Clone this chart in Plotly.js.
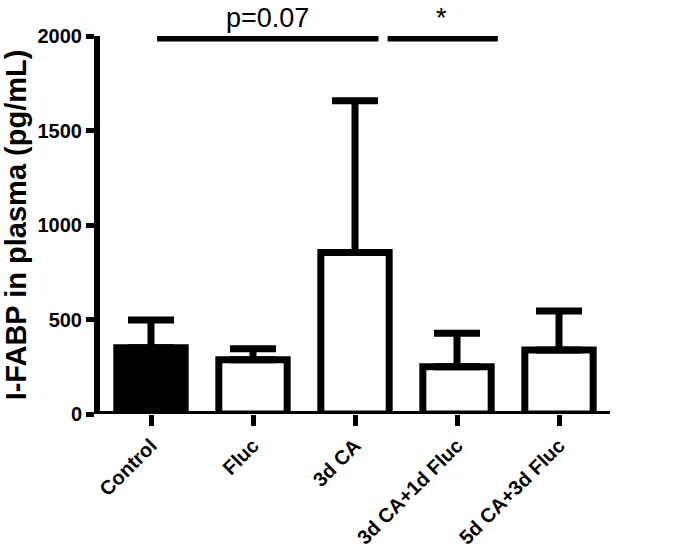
<!DOCTYPE html>
<html>
<head>
<meta charset="utf-8">
<script src="https://cdn.plot.ly/plotly-3.0.1.min.js"></script>
<style>html,body{margin:0;padding:0;background:#fff;}#chart{width:675px;height:557px;}</style>
</head>
<body>
<div id="chart"></div>
<script>
const categories = ["Control", "Fluc", "3d CA", "3d CA+1d Fluc", "5d CA+3d Fluc"];
const means = [350, 287, 855, 250, 339];
const errorsUp = [147, 58, 803, 177, 206];
const fillColors = ["#000000", "#ffffff", "#ffffff", "#ffffff", "#ffffff"];
const yTicks = [0, 500, 1000, 1500, 2000];
const sigBrackets = [
  {from: 0.06, to: 2.23, level: 1990, label: "p=0.07", labelX: 1.14},
  {from: 2.32, to: 3.40, level: 1990, label: "*", labelX: 2.85}
];

const FONT = "Liberation Sans, Arial, Helvetica, sans-serif";

const trace = {
  type: "bar",
  x: categories,
  y: means,
  width: 0.67,
  marker: {color: fillColors, line: {color: "#000", width: 7}},
  error_y: {
    type: "data", symmetric: false,
    array: errorsUp, arrayminus: categories.map(() => 0),
    color: "#000", thickness: 7, width: 23
  },
  hoverinfo: "none"
};

const shapes = sigBrackets.map(b => ({
  type: "line", xref: "x", yref: "y",
  x0: b.from, x1: b.to, y0: b.level, y1: b.level,
  line: {color: "#000", width: 7}
}));
// x axis baseline at y = 0
shapes.push({
  type: "line", xref: "paper", yref: "y",
  x0: -0.012, x1: 1.0, y0: 0, y1: 0,
  line: {color: "#000", width: 6}, layer: "above"
});

const annotations = sigBrackets.map(b => ({
  xref: "x", yref: "paper", x: b.labelX, y: 1, yanchor: "bottom",
  yshift: 1, text: b.label, showarrow: false,
  font: {family: FONT, size: 27, color: "#000"}
}));

const layout = {
  width: 675, height: 557,
  margin: {l: 100, r: 65, t: 36, b: 143},
  paper_bgcolor: "#fff", plot_bgcolor: "#fff",
  showlegend: false,
  xaxis: {
    type: "category", range: [-0.5, 4.5],
    showline: false,
    ticks: "outside", ticklen: 11, tickwidth: 5, tickcolor: "#000",
    tickangle: -45, showgrid: false, zeroline: false,
    tickfont: {family: FONT, size: 20, color: "#000", weight: "bold"}
  },
  yaxis: {
    range: [0, 2000], tickvals: yTicks,
    showline: true, linecolor: "#000", linewidth: 6,
    ticks: "outside", ticklen: 8, tickwidth: 5, tickcolor: "#000",
    showgrid: false, zeroline: false,
    tickfont: {family: FONT, size: 20, color: "#000", weight: "bold"},
    title: {text: "I-FABP in plasma (pg/mL)", standoff: 6,
            font: {family: FONT, size: 29, color: "#000", weight: "bold"}}
  },
  shapes: shapes,
  annotations: annotations
};

Plotly.newPlot("chart", [trace], layout, {displayModeBar: false, staticPlot: true});
</script>
</body>
</html>
